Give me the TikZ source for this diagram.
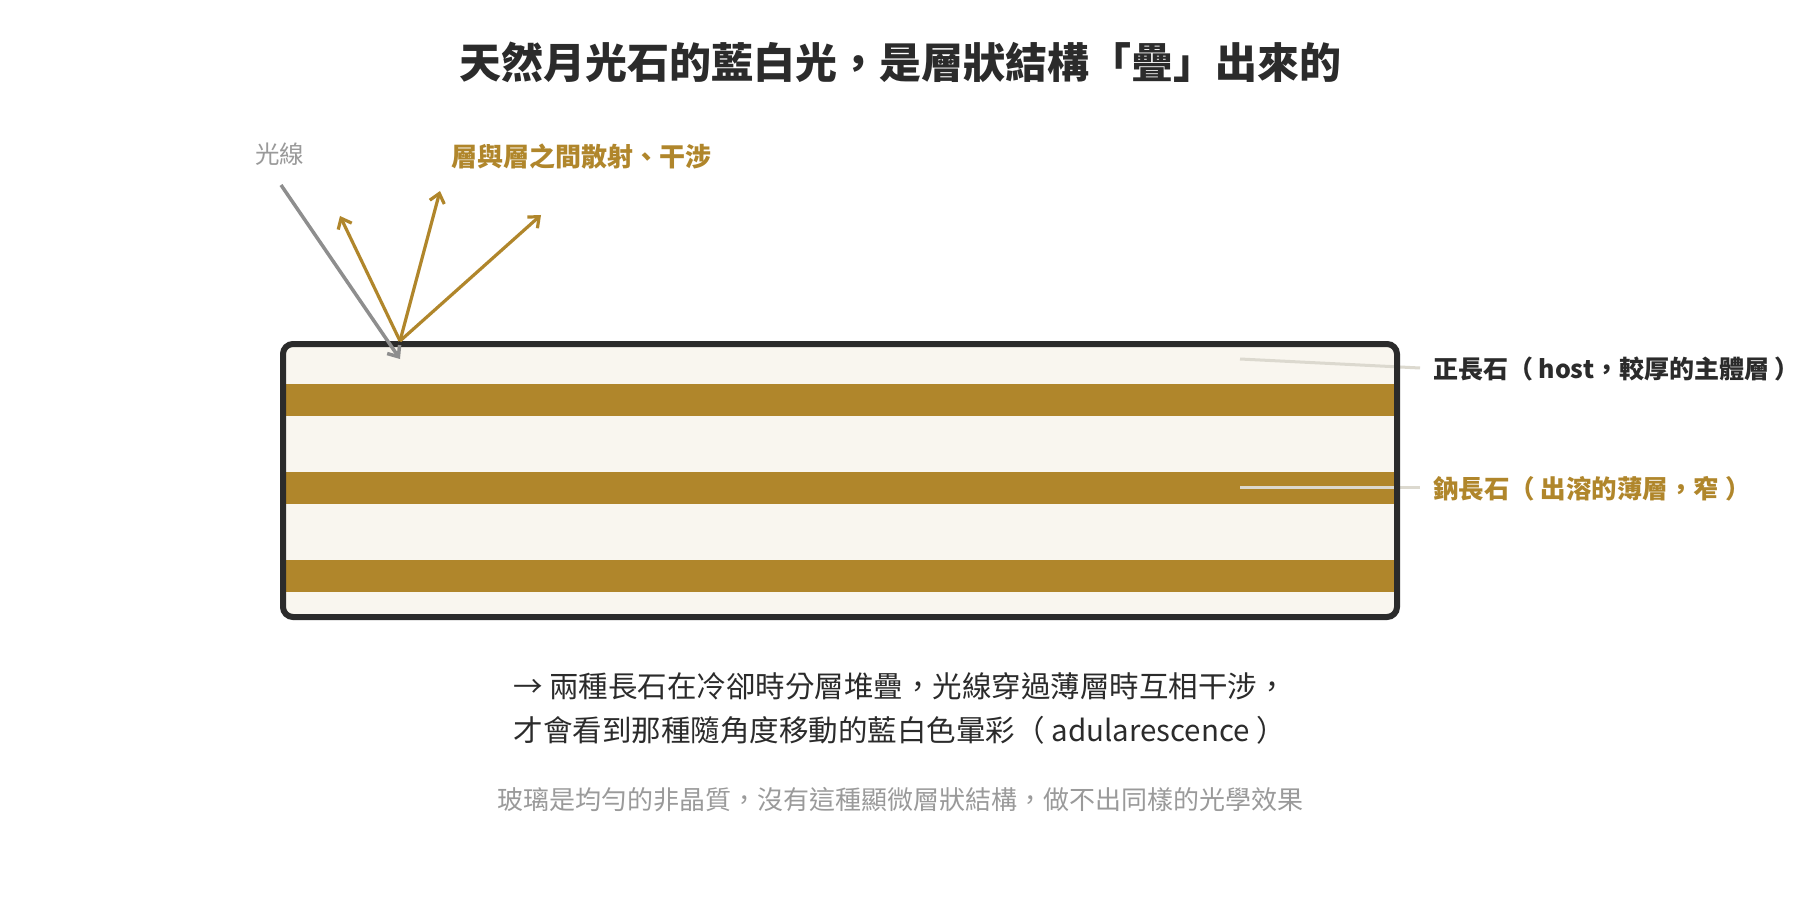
\documentclass[tikz,border=0pt]{standalone}
\usepackage{fontspec}
\setmainfont{Noto Sans CJK TC}
\usetikzlibrary{arrows.meta}
\definecolor{gold}{HTML}{B0862B}
\definecolor{inkdark}{HTML}{2B2B2B}
\definecolor{cream}{HTML}{F9F6EF}
\definecolor{leadgray}{HTML}{DCD9CF}
\definecolor{raygray}{HTML}{8E8E8E}
\definecolor{softgray}{HTML}{9A9A9A}
\newcommand\pxsize[1]{\fontsize{#1}{#1}\selectfont}
\begin{document}
\begin{tikzpicture}[x=1pt,y=-1pt,
  lbl/.style={inner sep=0pt, outer sep=0pt},
  band/.style={fill=gold, draw=none},
  leader/.style={draw=leadgray, line width=3pt},
  rayin/.style={draw=raygray, line width=3.5pt, -{Straight Barb[length=9pt,width=15pt]}},
  rayout/.style={draw=gold, line width=3.2pt, -{Straight Barb[length=9pt,width=15pt]}},
  stone/.style={draw=inkdark, line width=6pt, rounded corners=10pt}]
\useasboundingbox[fill=white] (0,0) rectangle (1800,920);

% title
\node[lbl, text=inkdark, font=\pxsize{42}\bfseries] (title) at (900,62) {天然月光石的藍白光，是層狀結構「疊」出來的};

% stone body
\path[fill=cream, rounded corners=10pt] (283,344) rectangle (1397,617);
\fill[band] (283,384) rectangle (1397,416);
\fill[band] (283,472) rectangle (1397,504);
\fill[band] (283,560) rectangle (1397,592);

% labels on right
\node[lbl, anchor=west, text=inkdark, font=\pxsize{25}\bfseries] (host) at (1433,369) {正長石（ host，較厚的主體層 ）};
\node[lbl, anchor=west, text=gold, font=\pxsize{25.5}\bfseries] (albite) at (1433,489) {鈉長石（ 出溶的薄層，窄 ）};
\coordinate (hostpt) at (1240,359);
\coordinate (hostend) at (1420,368);
\coordinate (albpt) at (1240,487);
\coordinate (albend) at (1420,487);
\draw[leader] (hostpt) -- (hostend);
\draw[leader] (albpt) -- (albend);

\node[stone, minimum width=1114pt, minimum height=273pt, inner sep=0pt] (box) at (840,480.5) {};

% rays
\node[lbl, anchor=west, text=softgray, font=\pxsize{24.5}] (raylbl) at (255,154) {光線};
\node[lbl, anchor=west, text=gold, font=\pxsize{26}\bfseries] (scat) at (451,157) {層與層之間散射、干涉};
\coordinate (raystart) at (281,185);
\coordinate (raytip) at (400,359);
\coordinate (hit) at (400,341);
\coordinate (s1) at (340,216);
\coordinate (s2) at (440,191);
\coordinate (s3) at (541,215);
\draw[rayin] (raystart) -- (raytip);
\draw[rayout] (hit) -- (s1);
\draw[rayout] (hit) -- (s2);
\draw[rayout] (hit) -- (s3);

% notes
\node[lbl, text=inkdark, font=\pxsize{29.5}] (note1) at (900,686) {→ 兩種長石在冷卻時分層堆疊，光線穿過薄層時互相干涉，};
\node[lbl, text=inkdark, font=\pxsize{29.5}] (note2) at (900,730) {才會看到那種隨角度移動的藍白色暈彩（ adularescence ）};
\node[lbl, text=softgray, font=\pxsize{26}] (note3) at (900,800) {玻璃是均勻的非晶質，沒有這種顯微層狀結構，做不出同樣的光學效果};
\end{tikzpicture}
\end{document}
